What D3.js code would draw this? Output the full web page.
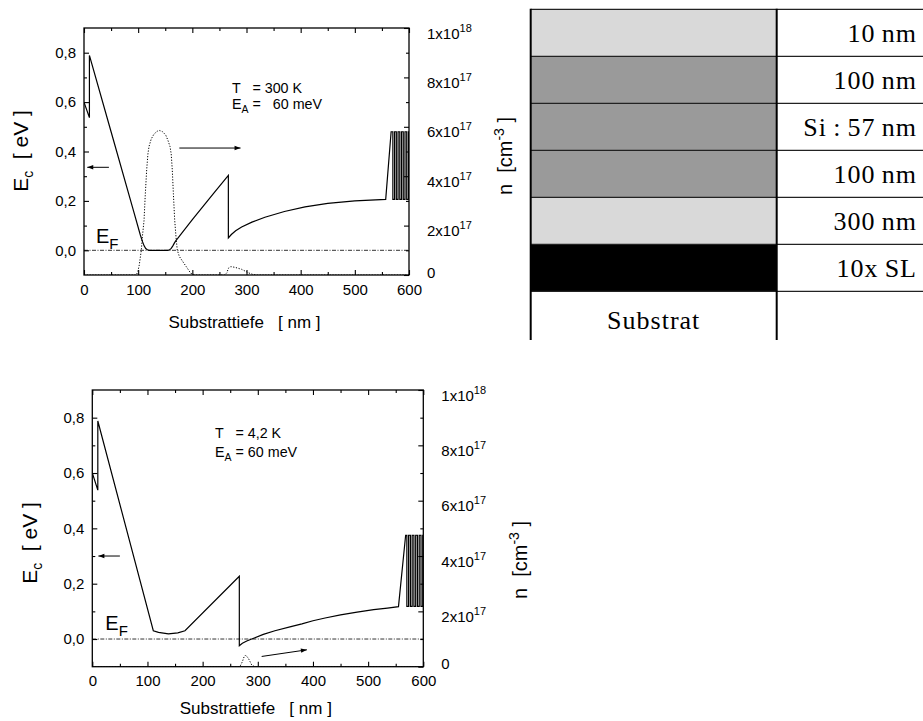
<!DOCTYPE html>
<html>
<head>
<meta charset="utf-8">
<script src="https://cdn.jsdelivr.net/npm/d3@7"></script>
<style>
  body { margin: 0; background: #fff; }
  svg { display: block; }
  text { font-family: "Liberation Sans", Arial, sans-serif; fill: #000; }
  .serif { font-family: "Liberation Serif", "Times New Roman", serif; }
</style>
</head>
<body>
<svg id="chart" width="923" height="721"></svg>
<script>
// ---- axis ticks -------------------------------------------------------
const depthTicks = [0, 100, 200, 300, 400, 500, 600];
const depthMinor = [50, 150, 250, 350, 450, 550];
const energyTicks = [0, 0.2, 0.4, 0.6, 0.8];
const energyLabels = ["0,0", "0,2", "0,4", "0,6", "0,8"];
const energyMinor = [0.1, 0.3, 0.5, 0.7];
const densityTicks = [0, 2e17, 4e17, 6e17, 8e17, 1e18];
const densityMantissa = ["0", "2x10", "4x10", "6x10", "8x10", "1x10"];
const densityExponent = ["", "17", "17", "17", "17", "18"];
const densityMinor = [1e17, 3e17, 5e17, 7e17, 9e17];

// ---- conduction band edge E_c (eV) vs depth (nm), T = 300 K ------------
const ec300Depth = [0, 10, 10, 50, 90, 104, 108, 111, 114, 117, 120, 155, 158, 161, 164, 167, 170, 173,
  200, 240, 266.5, 266.5, 272, 280, 291, 310, 334, 370, 408, 450, 500, 557, 567];
const ec300Energy = [0.60, 0.537, 0.789, 0.480, 0.171, 0.062, 0.035, 0.018, 0.007, 0.002, 0, 0, 0.002, 0.008, 0.018, 0.030, 0.040, 0.048,
  0.124, 0.232, 0.303, 0.050, 0.064, 0.079, 0.094, 0.114, 0.134, 0.157, 0.176, 0.190, 0.200, 0.206, 0.480];
// electron density n (cm^-3), T = 300 K
const n300Depth = [0, 96, 99, 102, 105.8, 108, 110.8, 113, 115.7, 118, 120, 124, 129, 135, 140, 145, 150.8, 155,
  158.8, 161, 163, 165, 167.4, 170, 172.2, 176, 184.6, 190, 197, 205, 260, 264, 266.4, 271, 278.8, 291, 303.5, 312, 320, 600];
const n300 = [0, 0, 0.1e17, 0.4e17, 1.0e17, 1.6e17, 2.2e17, 3.2e17, 4.25e17, 4.9e17, 5.2e17, 5.5e17, 5.7e17, 5.82e17, 5.85e17, 5.8e17, 5.67e17, 5.45e17,
  5.2e17, 4.9e17, 4.25e17, 3.3e17, 2.23e17, 1.5e17, 1.01e17, 0.75e17, 0.47e17, 0.3e17, 0.07e17, 0, 0, 0.1e17, 0.27e17, 0.34e17, 0.31e17, 0.23e17, 0.09e17, 0.02e17, 0, 0];

// ---- conduction band edge E_c (eV) vs depth (nm), T = 4.2 K ------------
const ec4Depth = [0, 10, 10, 110.6, 120, 138, 155, 168, 266.5, 266.5, 272, 280, 289, 310, 331, 360, 380, 400, 422, 450, 480, 510, 535, 555, 568];
const ec4Energy = [0.60, 0.538, 0.788, 0.030, 0.024, 0.019, 0.022, 0.030, 0.227, -0.024, -0.015, -0.007, 0, 0.017, 0.030, 0.045, 0.055, 0.066, 0.076, 0.087, 0.097, 0.106, 0.112, 0.117, 0.375];
// electron density n (cm^-3), T = 4.2 K
const n4Depth = [0, 266, 268, 272, 275, 278, 283, 289, 294, 600];
const n4 = [0, 0, 0.02e17, 0.18e17, 0.35e17, 0.42e17, 0.30e17, 0.06e17, 0, 0];

// superlattice layer edges (nm) and barrier / well levels (eV)
const slEdges = [570.2, 573.4, 576.6, 579.8, 583, 586.2, 589.4, 592.6, 595.8, 599];
const sl300Levels = [0.480, 0.206];
const sl4Levels = [0.375, 0.118];

// ---- layer stack ----------------------------------------------------------
const layerThickness = ["10\u2009nm", "100\u2009nm", "Si\u2009:\u200957\u2009nm", "100\u2009nm", "300\u2009nm", "10x\u2009SL"];
const layerShade = ["#d9d9d9", "#9a9a9a", "#9a9a9a", "#9a9a9a", "#d9d9d9", "#000000"];
const substrateLabel = "Substrat";

const svg = d3.select("#chart");

// appends the superlattice zig-zag (barrier / well alternation) to a band profile
function withSuperlattice(depth, energy, levels) {
  const pts = depth.map((d, i) => [d, energy[i]]);
  let level = 0;
  slEdges.forEach(e => {
    pts.push([e, levels[level]]);
    level = 1 - level;
    pts.push([e, levels[level]]);
  });
  pts.push([600, levels[level]]);
  return pts;
}

function drawPanel(box, cfg) {
  const g = svg.append("g");
  const x = d3.scaleLinear([0, 600], [box.left, box.right]);
  const yE = d3.scaleLinear([-0.1, 0.9], [box.bottom, box.top]);
  const yN = d3.scaleLinear([0, 1e18], [box.bottom, box.top]);

  const clipId = "clip" + cfg.id;
  svg.append("clipPath").attr("id", clipId).append("rect")
    .attr("x", box.left).attr("y", box.top - 1)
    .attr("width", box.right - box.left).attr("height", box.bottom - box.top + 1);

  // Fermi level
  g.append("line")
    .attr("x1", x(0)).attr("x2", x(600)).attr("y1", yE(0)).attr("y2", yE(0))
    .attr("stroke", "#333").attr("stroke-width", 1)
    .attr("stroke-dasharray", "4,1.5,1,1.5");

  // electron density (dotted)
  const nLine = d3.line().x(d => x(d[0])).y(d => yN(d[1]));
  g.append("path")
    .datum(cfg.nDepth.map((d, i) => [d, cfg.n[i]]))
    .attr("d", nLine).attr("fill", "none").attr("stroke", "#000")
    .attr("stroke-width", 1).attr("stroke-dasharray", "1.2,1.6")
    .attr("clip-path", `url(#${clipId})`);

  // conduction band edge
  const eLine = d3.line().x(d => x(d[0])).y(d => yE(d[1]));
  g.append("path")
    .datum(withSuperlattice(cfg.ecDepth, cfg.ecEnergy, cfg.slLevels))
    .attr("d", eLine).attr("fill", "none").attr("stroke", "#000")
    .attr("stroke-width", 1.2).attr("stroke-linejoin", "miter")
    .attr("clip-path", `url(#${clipId})`);

  // frame
  g.append("rect")
    .attr("x", box.left).attr("y", box.top)
    .attr("width", box.right - box.left).attr("height", box.bottom - box.top)
    .attr("fill", "none").attr("stroke", "#000").attr("stroke-width", 1.3);

  const axisStyle = sel => {
    sel.select(".domain").remove();
    sel.selectAll(".tick line").attr("stroke", "#000").attr("stroke-width", 1.1);
  };
  const labelFont = sel => sel.selectAll("text").attr("font-size", 15)
    .attr("font-family", "Liberation Sans, Arial, sans-serif");

  // depth axis (bottom, labelled) and mirrored top ticks
  g.append("g").attr("transform", `translate(0,${box.bottom})`)
    .call(d3.axisBottom(x).tickValues(depthTicks).tickSizeInner(-5).tickSizeOuter(0)
      .tickPadding(9).tickFormat(d3.format("d")))
    .call(axisStyle).call(labelFont);
  g.append("g").attr("transform", `translate(0,${box.bottom})`)
    .call(d3.axisBottom(x).tickValues(depthMinor).tickSizeInner(-3).tickSizeOuter(0).tickFormat(""))
    .call(axisStyle);
  g.append("g").attr("transform", `translate(0,${box.top})`)
    .call(d3.axisTop(x).tickValues(depthTicks).tickSizeInner(-5).tickSizeOuter(0).tickFormat(""))
    .call(axisStyle);
  g.append("g").attr("transform", `translate(0,${box.top})`)
    .call(d3.axisTop(x).tickValues(depthMinor).tickSizeInner(-3).tickSizeOuter(0).tickFormat(""))
    .call(axisStyle);

  // energy axis (left)
  g.append("g").attr("transform", `translate(${box.left},0)`)
    .call(d3.axisLeft(yE).tickValues(energyTicks).tickSizeInner(-5).tickSizeOuter(0)
      .tickPadding(8).tickFormat((d, i) => energyLabels[i]))
    .call(axisStyle).call(labelFont);
  g.append("g").attr("transform", `translate(${box.left},0)`)
    .call(d3.axisLeft(yE).tickValues(energyMinor).tickSizeInner(-3).tickSizeOuter(0).tickFormat(""))
    .call(axisStyle);

  // density axis (right)
  const right = g.append("g").attr("transform", `translate(${box.right},0)`)
    .call(d3.axisRight(yN).tickValues(densityTicks).tickSizeInner(-5).tickSizeOuter(0).tickFormat(""))
    .call(axisStyle);
  right.selectAll(".tick text").remove();
  right.selectAll(".tick").each(function (d, i) {
    const t = d3.select(this).append("text")
      .attr("x", 18).attr("y", i === 0 ? 2 : 10)
      .attr("font-size", 15).attr("text-anchor", "start");
    t.append("tspan").text(densityMantissa[i]);
    if (densityExponent[i]) {
      t.append("tspan").attr("dy", -7).attr("font-size", 11).text(densityExponent[i]);
    }
  });
  g.append("g").attr("transform", `translate(${box.right},0)`)
    .call(d3.axisRight(yN).tickValues(densityMinor).tickSizeInner(-3).tickSizeOuter(0).tickFormat(""))
    .call(axisStyle);

  // axis titles
  g.append("text")
    .attr("x", (box.left + box.right) / 2 - 2).attr("y", box.bottom + cfg.xTitleDy)
    .attr("text-anchor", "middle").attr("font-size", 17)
    .attr("xml:space", "preserve")
    .text("Substrattiefe   [ nm ]");

  const yt = g.append("text")
    .attr("transform", `translate(${cfg.leftTitleX},${cfg.leftTitleY}) rotate(-90)`)
    .attr("text-anchor", "middle").attr("font-size", 21).attr("xml:space", "preserve");
  yt.append("tspan").text("E");
  yt.append("tspan").attr("dy", 5).attr("font-size", 14).text("c");
  yt.append("tspan").attr("dy", -5).text("  [ eV ]");

  const nt = g.append("text")
    .attr("transform", `translate(${cfg.rightTitleX},${cfg.rightTitleY}) rotate(-90)`)
    .attr("text-anchor", "middle").attr("font-size", 20).attr("xml:space", "preserve");
  nt.append("tspan").text("n  [cm");
  nt.append("tspan").attr("dy", -8).attr("font-size", 14).text("-3");
  nt.append("tspan").attr("dy", 8).text(" ]");

  // Fermi level label
  const ef = g.append("text")
    .attr("x", box.left + cfg.efDx).attr("y", yE(0) - cfg.efDy).attr("font-size", 20);
  ef.append("tspan").text("E");
  ef.append("tspan").attr("dy", 6).attr("font-size", 15).text("F");

  // parameters
  const p1 = g.append("text").attr("x", cfg.noteX).attr("y", cfg.noteY).attr("font-size", 14.3)
    .attr("xml:space", "preserve");
  p1.text(cfg.noteT);
  const p2 = g.append("text").attr("x", cfg.noteX).attr("y", cfg.noteY + cfg.noteGap).attr("font-size", 14.3)
    .attr("xml:space", "preserve");
  p2.append("tspan").text("E");
  p2.append("tspan").attr("dy", 4).attr("font-size", 10.5).text("A");
  p2.append("tspan").attr("dy", -4).text(cfg.noteEA);

  // arrows pointing to the matching axis
  cfg.arrows.forEach(a => {
    const x1 = x(a[0]), y1 = yE(a[1]), x2 = x(a[2]), y2 = yE(a[3]);
    const ang = Math.atan2(y2 - y1, x2 - x1);
    g.append("line").attr("x1", x1).attr("y1", y1).attr("x2", x2).attr("y2", y2)
      .attr("stroke", "#000").attr("stroke-width", 1);
    const L = 6, W = 2.2;
    const hp = [
      [x2, y2],
      [x2 - L * Math.cos(ang) + W * Math.sin(ang), y2 - L * Math.sin(ang) - W * Math.cos(ang)],
      [x2 - L * Math.cos(ang) - W * Math.sin(ang), y2 - L * Math.sin(ang) + W * Math.cos(ang)]
    ];
    g.append("path").attr("d", d3.line()(hp) + "Z").attr("fill", "#000");
  });
}

drawPanel({ left: 84, right: 409, top: 28, bottom: 275 }, {
  id: "a",
  ecDepth: ec300Depth, ecEnergy: ec300Energy, slLevels: sl300Levels,
  nDepth: n300Depth, n: n300,
  xTitleDy: 53, leftTitleX: 28, leftTitleY: 151, rightTitleX: 512, rightTitleY: 156,
  efDx: 12, efDy: 7,
  noteX: 232, noteY: 93, noteGap: 16, noteT: "T   = 300 K", noteEA: " =   60 meV",
  arrows: [[46, 0.336, 6, 0.336], [176, 0.414, 289, 0.414]]
});

drawPanel({ left: 92.3, right: 423.3, top: 390, bottom: 666.7 }, {
  id: "b",
  ecDepth: ec4Depth, ecEnergy: ec4Energy, slLevels: sl4Levels,
  nDepth: n4Depth, n: n4,
  xTitleDy: 47, leftTitleX: 37, leftTitleY: 543, rightTitleX: 527, rightTitleY: 560,
  efDx: 13, efDy: 9,
  noteX: 215, noteY: 438, noteGap: 19, noteT: "T   = 4,2 K", noteEA: " = 60 meV",
  arrows: [[50, 0.30, 11, 0.30], [307, -0.063, 389, -0.039]]
});

// ---- layer stack table ---------------------------------------------------
const tbl = svg.append("g");
const colLeft = 530.7, colMid = 776.7, colRight = 923;
const row = d3.scaleBand().domain(d3.range(layerThickness.length + 1)).range([9.3, 9.3 + 47 * 7]);

tbl.selectAll("rect.layer").data(layerShade).join("rect")
  .attr("class", "layer")
  .attr("x", colLeft).attr("y", (d, i) => row(i))
  .attr("width", colMid - colLeft).attr("height", row.bandwidth())
  .attr("fill", d => d);

tbl.selectAll("line.row").data(d3.range(layerThickness.length + 1)).join("line")
  .attr("class", "row")
  .attr("x1", colLeft).attr("x2", colRight)
  .attr("y1", i => row(i)).attr("y2", i => row(i))
  .attr("stroke", "#222").attr("stroke-width", 1.3);

[colLeft, colMid].forEach(cx => {
  tbl.append("line").attr("x1", cx).attr("x2", cx).attr("y1", row(0) - 0.6).attr("y2", 340)
    .attr("stroke", "#000").attr("stroke-width", 2);
});

tbl.selectAll("text.thick").data(layerThickness).join("text")
  .attr("class", "thick serif")
  .attr("x", 917).attr("y", (d, i) => row(i) + row.bandwidth() / 2 + 9)
  .attr("text-anchor", "end").attr("font-size", 26).attr("letter-spacing", 1)
  .text(d => d);

tbl.append("text").attr("class", "serif")
  .attr("x", (colLeft + colMid) / 2).attr("y", row(layerThickness.length) + 38)
  .attr("text-anchor", "middle").attr("font-size", 26).attr("letter-spacing", 1)
  .text(substrateLabel);
</script>
</body>
</html>
